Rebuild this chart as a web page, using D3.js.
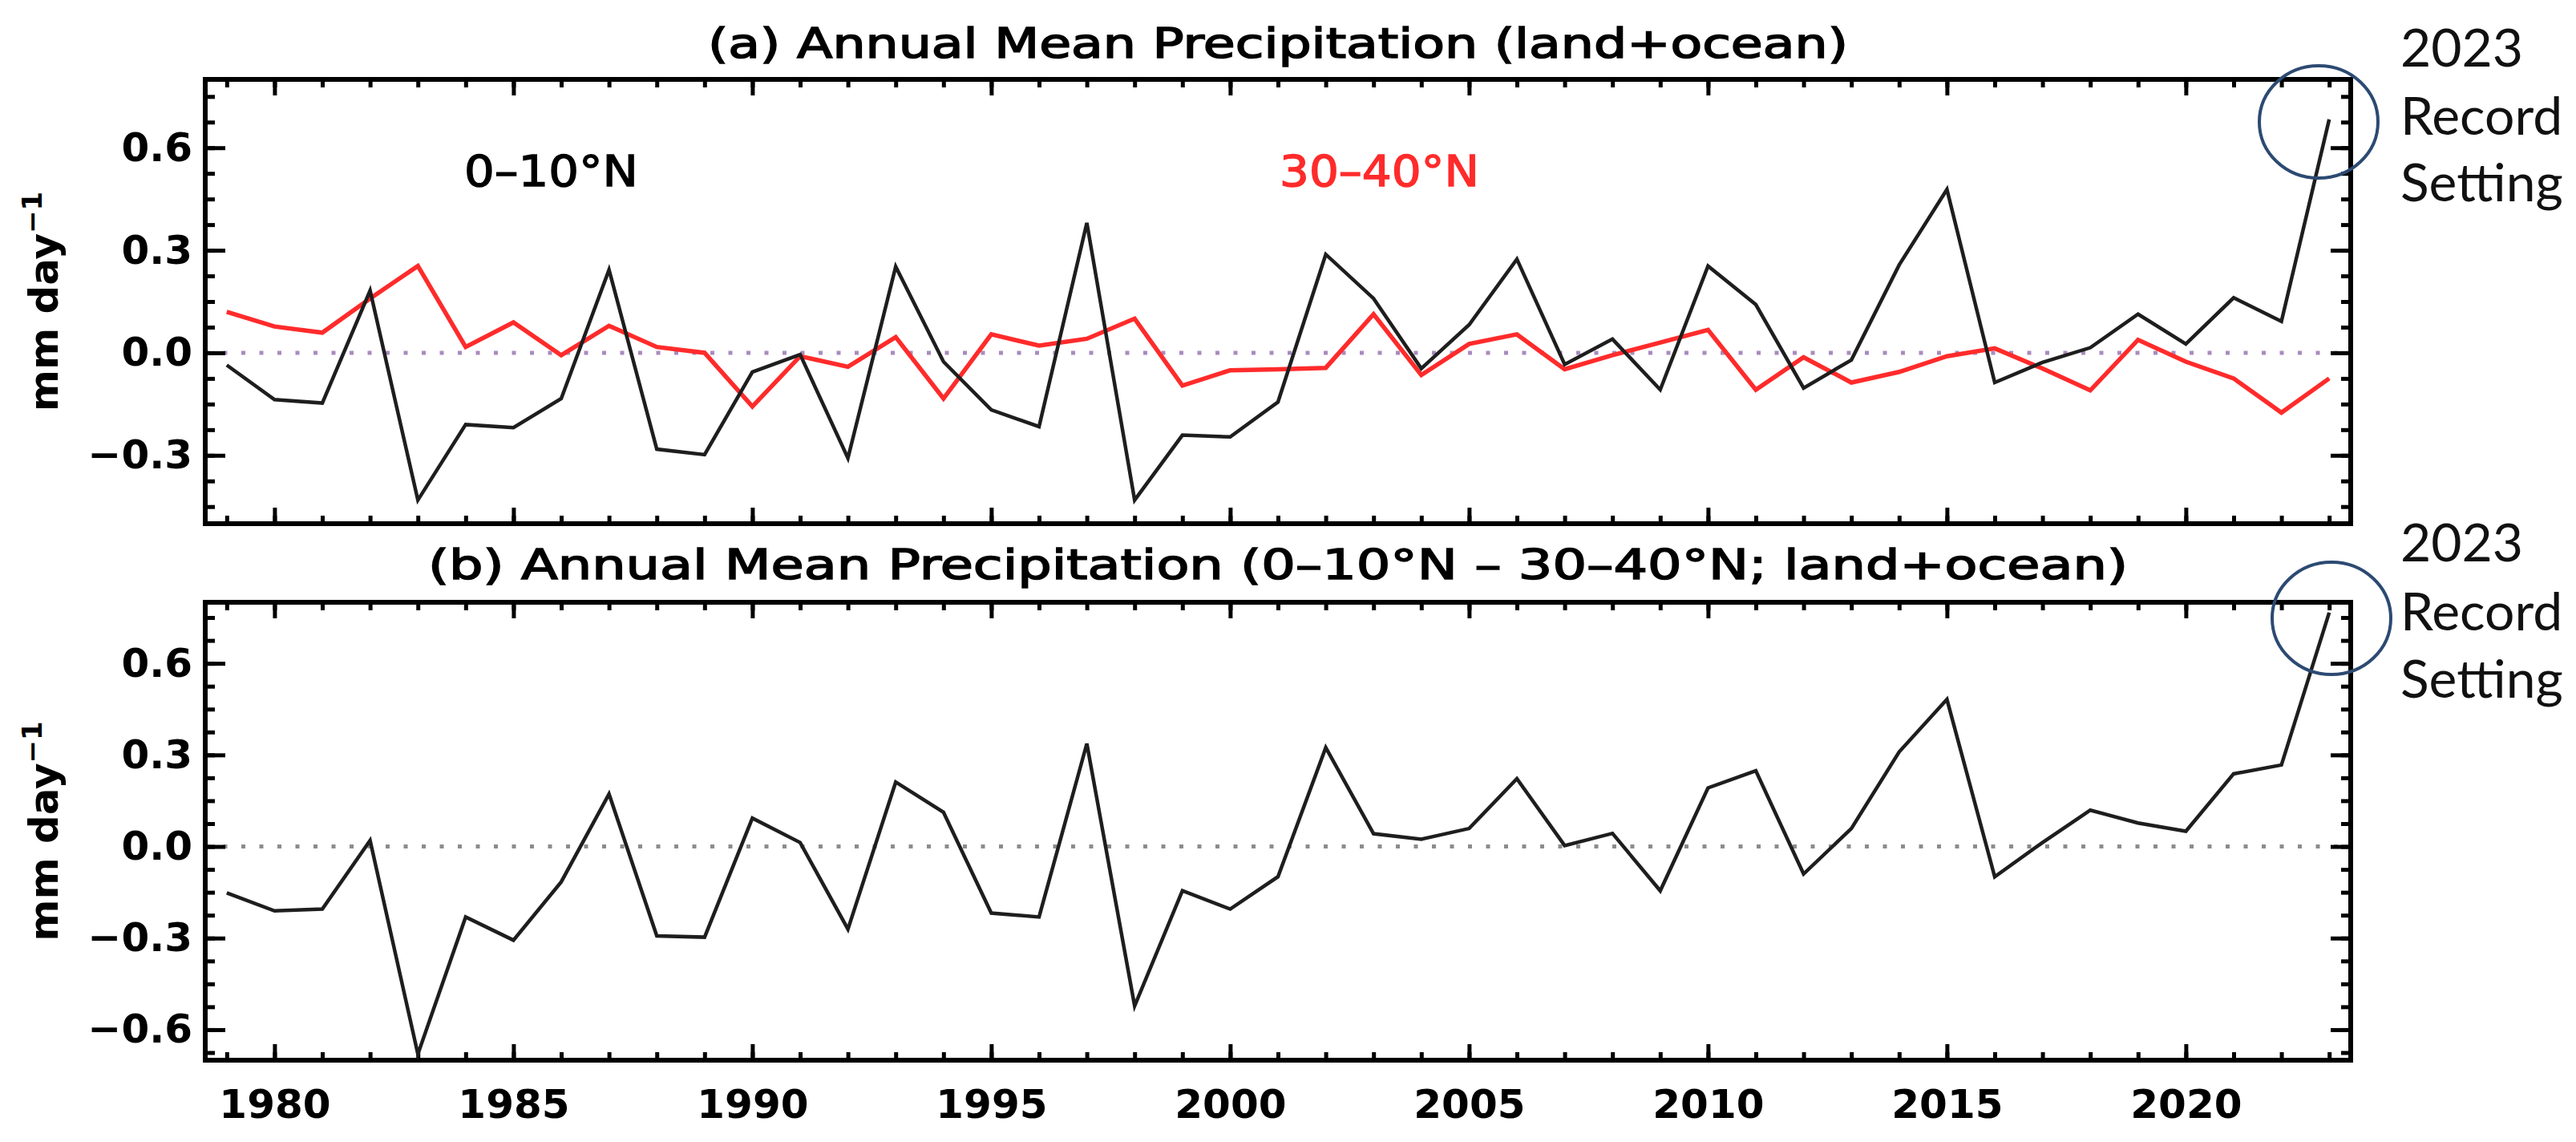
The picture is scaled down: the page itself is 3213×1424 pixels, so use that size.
<!DOCTYPE html>
<html>
<head>
<meta charset="utf-8">
<script src="https://cdn.jsdelivr.net/npm/d3@7"></script>
<style>
  html, body { margin: 0; padding: 0; background: #fff; }
  svg text { font-family: "DejaVu Sans", sans-serif; }
</style>
</head>
<body>
<svg id="chart"></svg>
<script>
// years on the x axis
const years = [1979, 1980, 1981, 1982, 1983, 1984, 1985, 1986, 1987, 1988,
  1989, 1990, 1991, 1992, 1993, 1994, 1995, 1996, 1997, 1998, 1999, 2000,
  2001, 2002, 2003, 2004, 2005, 2006, 2007, 2008, 2009, 2010, 2011, 2012,
  2013, 2014, 2015, 2016, 2017, 2018, 2019, 2020, 2021, 2022, 2023];

// (a) 0-10N anomaly, mm/day
const eqBand = [-0.036, -0.137, -0.147, 0.182, -0.431, -0.21, -0.219, -0.134, 0.243, -0.282,
  -0.298, -0.056, -0.005, -0.308, 0.252, -0.026, -0.167, -0.216, 0.38, -0.431, -0.241, -0.246,
  -0.144, 0.288, 0.159, -0.046, 0.082, 0.274, -0.034, 0.04, -0.108, 0.254, 0.141, -0.103,
  -0.021, 0.257, 0.478, -0.087, -0.028, 0.015, 0.113, 0.026, 0.161, 0.092, 0.683];

// (a) 30-40N anomaly, mm/day
const midBand = [0.12, 0.077, 0.059, 0.159, 0.254, 0.017, 0.089, -0.007, 0.079, 0.017,
  0.0, -0.157, -0.01, -0.041, 0.046, -0.134, 0.054, 0.021, 0.041, 0.1, -0.096, -0.051,
  -0.048, -0.044, 0.113, -0.065, 0.026, 0.054, -0.048, -0.007, 0.03, 0.067, -0.108, -0.013,
  -0.087, -0.056, -0.01, 0.013, -0.046, -0.11, 0.038, -0.026, -0.075, -0.175, -0.075];

// (b) difference 0-10N minus 30-40N
const diffBand = [-0.152, -0.211, -0.205, 0.02, -0.68, -0.231, -0.307, -0.116, 0.172, -0.293,
  -0.297, 0.093, 0.013, -0.271, 0.211, 0.112, -0.218, -0.231, 0.337, -0.522, -0.145, -0.205,
  -0.099, 0.324, 0.042, 0.024, 0.059, 0.222, 0.003, 0.043, -0.145, 0.192, 0.248, -0.09,
  0.059, 0.31, 0.482, -0.099, 0.013, 0.119, 0.077, 0.05, 0.238, 0.267, 0.766];

const xMajor = [1980, 1985, 1990, 1995, 2000, 2005, 2010, 2015, 2020];
const yMajorA = [-0.3, 0.0, 0.3, 0.6];
const yMajorB = [-0.6, -0.3, 0.0, 0.3, 0.6];

const width = 3213;
const height = 1424;
const left = 256, right = 2932;

const svg = d3.select("#chart")
  .attr("width", width)
  .attr("height", height);

const x = d3.scaleLinear()
  .domain([1978.55, 2023.45])
  .range([left, right]);

const panels = [
  { top: 99, bottom: 653, domain: [-0.5, 0.8], major: yMajorA,
    title: "(a) Annual Mean Precipitation (land+ocean)", titleY: 72, titleW: 1422,
    zeroColor: "#a98bbd", labels: false },
  { top: 751, bottom: 1322, domain: [-0.7, 0.8], major: yMajorB,
    title: "(b) Annual Mean Precipitation (0\u201310\u00b0N \u2013 30\u201340\u00b0N; land+ocean)", titleY: 722, titleW: 2120,
    zeroColor: "#8c8c8c", labels: true }
];

const fmt = d3.format(".1f");

panels.forEach(p => {
  p.y = d3.scaleLinear().domain(p.domain).range([p.bottom, p.top]);
  const g = svg.append("g");

  // minor y ticks every 0.075
  const minorY = d3.range(Math.ceil(p.domain[0] / 0.075), Math.floor(p.domain[1] / 0.075) + 1)
    .map(k => +(k * 0.075).toFixed(3));

  // zero line
  g.append("line")
    .attr("x1", left).attr("x2", right)
    .attr("y1", p.y(0)).attr("y2", p.y(0))
    .attr("stroke", p.zeroColor)
    .attr("stroke-width", 5)
    .attr("stroke-dasharray", "5,17.5");

  const axes = [
    { ax: d3.axisBottom(x), t: `translate(0,${p.bottom})`, major: xMajor, minor: years, big: 20, small: 10, labels: p.labels, isX: true },
    { ax: d3.axisTop(x), t: `translate(0,${p.top})`, major: xMajor, minor: years, big: 20, small: 10, labels: false, isX: true },
    { ax: d3.axisLeft(p.y), t: `translate(${left},0)`, major: p.major, minor: minorY, big: 25, small: 12, labels: true, isX: false },
    { ax: d3.axisRight(p.y), t: `translate(${right},0)`, major: p.major, minor: minorY, big: 25, small: 12, labels: false, isX: false }
  ];

  axes.forEach(a => {
    const minorAxis = a.ax.tickValues(a.minor).tickSize(-a.small).tickFormat("");
    g.append("g").attr("class", "minor").attr("transform", a.t).call(minorAxis);
    const majorAxis = a.ax.tickValues(a.major).tickSize(-a.big).tickPadding(a.isX ? 36 : 16)
      .tickFormat(a.labels ? (a.isX ? d3.format("d") : fmt) : "");
    g.append("g").attr("class", "major").attr("transform", a.t).call(majorAxis);
  });

  g.selectAll(".domain").remove();
  g.selectAll(".tick line").attr("stroke", "#000").attr("stroke-width", 5);
  g.selectAll(".tick text")
    .attr("fill", "#000")
    .style("font-size", "50px")
    .style("font-weight", "bold");

  // frame
  g.append("rect")
    .attr("x", left).attr("y", p.top)
    .attr("width", right - left).attr("height", p.bottom - p.top)
    .attr("fill", "none")
    .attr("stroke", "#000")
    .attr("stroke-width", 6);

  // title
  svg.append("text")
    .attr("x", (left + right) / 2)
    .attr("y", p.titleY)
    .attr("text-anchor", "middle")
    .attr("textLength", p.titleW)
    .attr("lengthAdjust", "spacingAndGlyphs")
    .attr("stroke", "#000")
    .attr("stroke-width", 1.6)
    .style("font-size", "52px")
    .text(p.title);

  // y label
  const yl = svg.append("text")
    .attr("transform", `translate(72,${(p.top + p.bottom) / 2}) rotate(-90)`)
    .attr("text-anchor", "middle")
    .style("font-size", "50px")
    .style("font-weight", "bold");
  yl.append("tspan").text("mm day");
  yl.append("tspan").attr("dy", -20).style("font-size", "34px").text("\u22121");
});

const line = yScale => d3.line()
  .x((d, i) => x(years[i]))
  .y(d => yScale(d));

const pA = panels[0], pB = panels[1];

svg.append("path")
  .datum(midBand)
  .attr("d", line(pA.y))
  .attr("fill", "none")
  .attr("stroke", "#ff2b2b")
  .attr("stroke-width", 5.5);

svg.append("path")
  .datum(eqBand)
  .attr("d", line(pA.y))
  .attr("fill", "none")
  .attr("stroke", "#1e1e1e")
  .attr("stroke-width", 4.5);

svg.append("path")
  .datum(diffBand)
  .attr("d", line(pB.y))
  .attr("fill", "none")
  .attr("stroke", "#1e1e1e")
  .attr("stroke-width", 4.5);

// legend labels inside panel (a)
svg.append("text")
  .attr("x", 579).attr("y", 232)
  .attr("textLength", 217).attr("lengthAdjust", "spacingAndGlyphs")
  .attr("stroke", "#000").attr("stroke-width", 1.4)
  .style("font-size", "54px")
  .attr("fill", "#000")
  .text("0\u201310\u00b0N");

svg.append("text")
  .attr("x", 1596).attr("y", 232)
  .attr("textLength", 249).attr("lengthAdjust", "spacingAndGlyphs")
  .attr("stroke", "#ff2b2b").attr("stroke-width", 1.4)
  .style("font-size", "54px")
  .attr("fill", "#ff2b2b")
  .text("30\u201340\u00b0N");

// record annotations
const notes = [
  { p: pA, series: eqBand, cx: 2892, cy: 152, lines: [83, 168, 251] },
  { p: pB, series: diffBand, cx: 2908, cy: 771, lines: [700, 786, 870] }
];
const noteText = ["2023", "Record", "Setting"];

notes.forEach(n => {
  svg.append("ellipse")
    .attr("cx", n.cx).attr("cy", n.cy)
    .attr("rx", 74).attr("ry", 70)
    .attr("fill", "none")
    .attr("stroke", "#2c4a72")
    .attr("stroke-width", 4);
  noteText.forEach((t, i) => {
    svg.append("text")
      .attr("x", 2994).attr("y", n.lines[i])
      .style("font-family", "Lato, 'Open Sans', sans-serif")
      .style("font-size", "66px")
      .attr("fill", "#111")
      .text(t);
  });
});
</script>
</body>
</html>
